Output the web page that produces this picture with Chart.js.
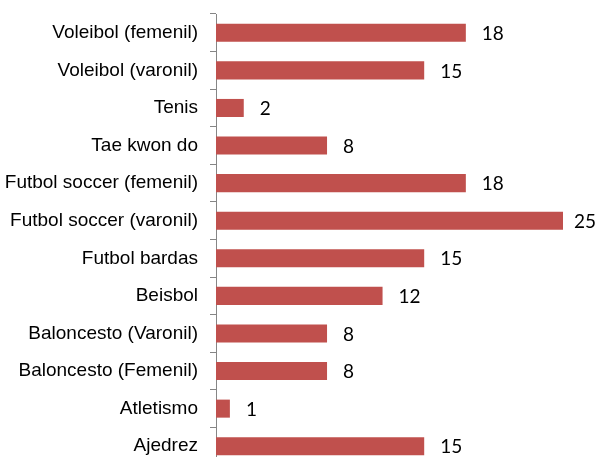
<!DOCTYPE html>
<html>
<head>
<meta charset="utf-8">
<script src="https://cdn.jsdelivr.net/npm/chart.js@4/dist/chart.umd.min.js"></script>
<style>
  html, body { margin: 0; padding: 0; background: #fff; overflow: hidden; }
  canvas { display: block; }
</style>
</head>
<body>
<canvas id="myChart" width="600" height="470"></canvas>
<script>
document.addEventListener("DOMContentLoaded", function () {

const deportes = [
    'Voleibol (femenil)',
    'Voleibol (varonil)',
    'Tenis',
    'Tae kwon do',
    'Futbol soccer (femenil)',
    'Futbol soccer (varonil)',
    'Futbol bardas',
    'Beisbol',
    'Baloncesto (Varonil)',
    'Baloncesto (Femenil)',
    'Atletismo',
    'Ajedrez'
];

const alumnos = [18, 15, 2, 8, 18, 25, 15, 12, 8, 8, 1, 15];

// etiquetas de valor al final de cada barra
const valueLabels = {
    id: 'valueLabels',
    afterDatasetsDraw(chart) {
        const ctx = chart.ctx;
        const meta = chart.getDatasetMeta(0);
        ctx.save();
        ctx.font = '19px Lato, "Open Sans", sans-serif';
        ctx.fillStyle = '#000';
        ctx.textAlign = 'left';
        ctx.textBaseline = 'middle';
        meta.data.forEach(function (bar, i) {
            const txt = String(alumnos[i]);
            const w = ctx.measureText(txt).width;
            // no dejar que la etiqueta se salga del lienzo
            const x = Math.min(bar.x + 16, chart.width - 4 - w);
            ctx.fillText(txt, x, bar.y + 1);
        });
        ctx.restore();
    }
};

const config = {
    type: 'bar',
    data: {
        labels: deportes,
        datasets: [{
            data: alumnos,
            backgroundColor: '#C0504D',
            borderWidth: 0,
            categoryPercentage: 1.0,
            barPercentage: 0.48
        }]
    },
    options: {
        indexAxis: 'y',
        responsive: false,
        animation: false,
        layout: { padding: { top: 14, right: 37, bottom: 5, left: 0 } },
        plugins: {
            legend: { display: false },
            tooltip: { enabled: false }
        },
        scales: {
            x: {
                display: false,
                min: 0,
                max: 25
            },
            y: {
                afterFit: function (scale) {
                    scale.width = 216;
                    scale.paddingTop = 0;
                    scale.paddingBottom = 0;
                },
                grid: {
                    offset: true,
                    drawOnChartArea: false,
                    drawTicks: true,
                    tickLength: 6,
                    color: '#868686'
                },
                border: { display: true, color: '#868686', width: 1 },
                ticks: {
                    padding: 12,
                    autoSkip: false,
                    color: '#000',
                    font: { family: '"Liberation Sans Narrow", "Arial Narrow", "Liberation Sans", sans-serif', size: 19 }
                }
            }
        }
    },
    plugins: [valueLabels]
};

var myChart = new Chart(document.getElementById('myChart'), config);

});
</script>
</body>
</html>
